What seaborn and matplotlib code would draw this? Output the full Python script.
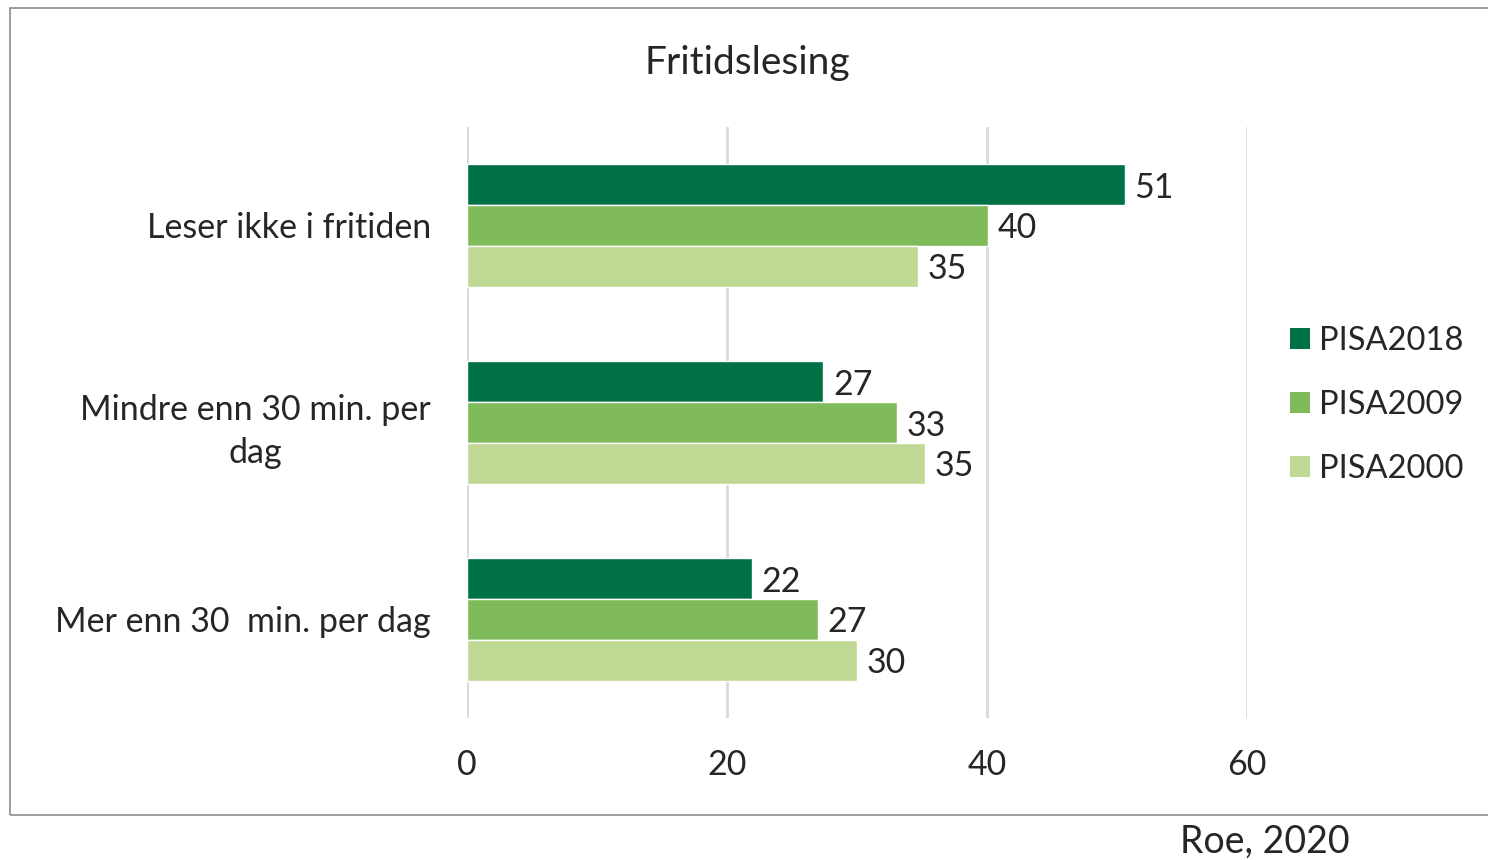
import pandas as pd
import matplotlib
matplotlib.use('Agg')
import matplotlib.pyplot as plt
import seaborn as sns
from matplotlib.patches import Rectangle, Patch

categories = ['Leser ikke i fritiden', 'Mindre enn 30 min. per\ndag', 'Mer enn 30  min. per dag']
series = ['PISA2018', 'PISA2009', 'PISA2000']
pisa2018 = [50.6, 27.4, 21.9]
pisa2009 = [40.1, 33.1, 27.0]
pisa2000 = [34.7, 35.2, 30.0]
colors = ['#007045', '#7FBB5A', '#BFD995']

rows = []
for name, vals in zip(series, [pisa2018, pisa2009, pisa2000]):
    for cat, v in zip(categories, vals):
        rows.append({'kategori': cat, 'serie': name, 'andel': v})
df = pd.DataFrame(rows)

sns.set_style('white')
plt.rcParams['font.family'] = ['Lato', 'DejaVu Sans']

fig = plt.figure(figsize=(14.88, 8.6), dpi=100)
ax = fig.add_axes([467 / 1488, 1 - 718 / 860, 780 / 1488, 591 / 860])

sns.barplot(data=df, y='kategori', x='andel', hue='serie', order=categories,
            hue_order=series, palette=colors, width=0.624, saturation=1,
            orient='h', legend=False, ax=ax)

for cont in ax.containers:
    labels = ax.bar_label(cont, fmt='%.0f', padding=7, fontsize=24.5)
    for t in labels:
        t.set_va('center_baseline')

ax.set_xlim(0, 60)
ax.set_xticks([0, 20, 40, 60])
ax.set_ylim(2.5, -0.5)
ax.grid(axis='x', color='#d9d9d9', linewidth=2)
ax.set_axisbelow(True)
sns.despine(ax=ax, left=True, bottom=True)
ax.set_xlabel('')
ax.set_ylabel('')
ax.tick_params(axis='x', labelsize=24.5, length=0, pad=22)
ax.tick_params(axis='y', labelsize=24.5, length=0, pad=26)
for lab in ax.get_yticklabels():
    lab.set_horizontalalignment('right')
    lab.set_multialignment('center')
    lab.set_linespacing(1.45)

fig.text(747 / 1488, 1 - 63 / 860, 'Fritidslesing', ha='center', va='center', fontsize=28)

handles = [Patch(facecolor=c, edgecolor='none') for c in colors]
fig.legend(handles, series, loc='center left', bbox_to_anchor=(1290 / 1488, 1 - 405 / 860),
           frameon=False, fontsize=23.5, handlelength=0.6, handleheight=0.6,
           handletextpad=0.3, labelspacing=1.05, borderpad=0, borderaxespad=0)

fig.patches.append(Rectangle((10 / 1488, 1 - 815 / 860), 1500 / 1488, 807 / 860,
                             transform=fig.transFigure, fill=False,
                             edgecolor='#8c8c8c', linewidth=1.2))

fig.text(1265 / 1488, 1 - 842 / 860, 'Roe, 2020', ha='center', va='center', fontsize=27)

fig.savefig('out.png', dpi=100)
